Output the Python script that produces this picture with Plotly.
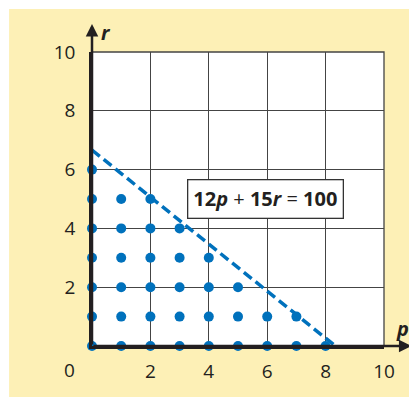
import plotly.graph_objects as go

# lattice points (p, r) that satisfy 12p + 15r <= 100
p_vals = [0, 1, 2, 3, 4, 5, 6, 7, 8,
          0, 1, 2, 3, 4, 5, 6, 7,
          0, 1, 2, 3, 4, 5,
          0, 1, 2, 3, 4,
          0, 1, 2, 3,
          0, 1, 2,
          0]
r_vals = [0] * 9 + [1] * 8 + [2] * 6 + [3] * 5 + [4] * 4 + [5] * 3 + [6]

# boundary line 12p + 15r = 100
line_p = [0, 100 / 12]
line_r = [100 / 15, 0]

tick_vals = [2, 4, 6, 8, 10]
tick_text = ["2", "4", "6", "8", "10"]

blue = "#0071BC"
ink = "#231F20"
font = "Open Sans"

fig = go.Figure()
fig.add_trace(go.Scatter(x=line_p, y=line_r, mode="lines",
                         line=dict(color=blue, width=3.5, dash="10px,5px"),
                         cliponaxis=False, hoverinfo="skip"))
fig.add_trace(go.Scatter(x=p_vals, y=r_vals, mode="markers",
                         marker=dict(color=blue, size=10),
                         cliponaxis=False))

# yellow panel, white plot area on top of it
fig.add_shape(type="rect", xref="paper", yref="paper",
              x0=-0.284, x1=1.2, y0=-0.25, y1=1.146,
              fillcolor="#FDF0B6", line_width=0, layer="below")
fig.add_shape(type="rect", xref="x domain", yref="y domain",
              x0=0, x1=1, y0=0, y1=1,
              fillcolor="white", line=dict(color="#444", width=1.3), layer="below")

# axis arrows
fig.add_annotation(x=10.94, y=0, ax=0, ay=0, xref="x", yref="y", axref="x", ayref="y",
                   showarrow=True, arrowhead=2, arrowsize=1, arrowwidth=2.5,
                   arrowcolor=ink, text="")
fig.add_annotation(x=0, y=10.95, ax=0, ay=0, xref="x", yref="y", axref="x", ayref="y",
                   showarrow=True, arrowhead=2, arrowsize=1, arrowwidth=2.5,
                   arrowcolor=ink, text="")

# axis titles and origin label
label_font = dict(family=font, size=20, color=ink)
fig.add_annotation(x=0.048, y=1.068, xref="paper", yref="paper",
                   xanchor="center", yanchor="middle",
                   text="<b><i>r</i></b>", showarrow=False, font=label_font)
fig.add_annotation(x=1.062, y=0.061, xref="paper", yref="paper",
                   xanchor="center", yanchor="middle",
                   text="<b><i>p</i></b>", showarrow=False, font=label_font)
fig.add_annotation(x=-0.0786, y=-0.0816, xref="paper", yref="paper",
                   xanchor="center", yanchor="middle",
                   text="0", showarrow=False,
                   font=dict(family=font, size=19, color=ink))

# equation label
fig.add_annotation(x=5.95, y=5.0,
                   text="<b>12<i>p</i></b> + <b>15<i>r</i></b> = <b>100</b>",
                   showarrow=False, bgcolor="white", bordercolor="#333",
                   borderwidth=1.3, borderpad=5,
                   font=dict(family=font, size=20, color=ink))

axis_common = dict(range=[0, 10], tickvals=tick_vals, ticktext=tick_text,
                   showgrid=True, gridcolor="#444", gridwidth=1.2,
                   zeroline=False, showline=True, linecolor=ink, linewidth=2.5,
                   ticks="", tickfont=dict(family=font, size=19, color=ink),
                   fixedrange=True)
fig.update_xaxes(**axis_common, ticklabelstandoff=6)
fig.update_yaxes(**axis_common, ticklabelstandoff=10)

# the page body adds an 8px offset, so the plot area is placed 8px up-left
fig.update_layout(width=417, height=397,
                  margin=dict(l=84, r=40.5, t=44, b=59),
                  paper_bgcolor="white", plot_bgcolor="white",
                  showlegend=False)

fig.write_html("out.html")
